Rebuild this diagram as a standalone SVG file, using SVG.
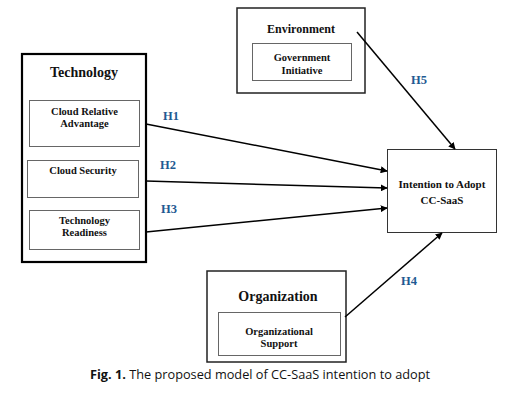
<svg xmlns="http://www.w3.org/2000/svg" width="515" height="403" viewBox="0 0 515 403">
<style>
.outer{fill:#fff;stroke:#222;stroke-width:1.5}
.thick{fill:#fff;stroke:#000;stroke-width:2.2}
.inner{fill:#fff;stroke:#666;stroke-width:1}
.t{font-family:"Liberation Serif",serif;font-weight:bold;fill:#111;text-anchor:middle}
.h{font-family:"Liberation Serif",serif;font-weight:bold;fill:#1F5A92;font-size:12.5px;text-anchor:middle}
.c{stroke:#000;stroke-width:1.5;fill:none;marker-end:url(#ah)}
.cap{font-family:"Open Sans","Liberation Sans",sans-serif;font-size:13px;fill:#111;text-anchor:middle}
</style>
<defs>
<marker id="ah" viewBox="0 0 10 10" refX="9" refY="5" markerWidth="7" markerHeight="7" markerUnits="userSpaceOnUse" orient="auto">
<path d="M0,0 L10,5 L0,10 z" fill="#000"/>
</marker>
</defs>
<g id="technology">
<rect class="thick" x="22" y="54" width="124" height="208"/>
<text class="t" x="84" y="77" font-size="14">Technology</text>
<g id="cloud-relative-advantage">
<rect class="inner" x="29.5" y="100.5" width="110" height="46"/>
<text class="t" x="84.5" y="115" font-size="10.5">Cloud Relative</text>
<text class="t" x="84.5" y="127" font-size="10.5">Advantage</text>
</g>
<g id="cloud-security">
<rect class="inner" x="27.5" y="160.5" width="111" height="37"/>
<text class="t" x="83" y="174" font-size="10.5">Cloud Security</text>
</g>
<g id="technology-readiness">
<rect class="inner" x="29.5" y="210.5" width="110" height="39"/>
<text class="t" x="84.5" y="224" font-size="10.5">Technology</text>
<text class="t" x="84.5" y="236" font-size="10.5">Readiness</text>
</g>
</g>
<g id="environment">
<rect class="outer" x="237" y="8" width="128" height="85"/>
<text class="t" x="301" y="33" font-size="12">Environment</text>
<g id="government-initiative">
<rect class="inner" x="252.5" y="43.5" width="99" height="37"/>
<text class="t" x="302" y="61" font-size="10.5">Government</text>
<text class="t" x="302" y="74" font-size="10.5">Initiative</text>
</g>
</g>
<g id="organization">
<rect class="outer" x="207" y="271" width="139" height="91"/>
<text class="t" x="278" y="301" font-size="14">Organization</text>
<g id="organizational-support">
<rect class="inner" x="218.5" y="312.5" width="122" height="43"/>
<text class="t" x="279" y="335" font-size="10.5">Organizational</text>
<text class="t" x="279" y="347" font-size="10.5">Support</text>
</g>
</g>
<g id="intention">
<rect x="387.5" y="149.5" width="109" height="83" fill="#fff" stroke="#333" stroke-width="1"/>
<text class="t" x="442" y="188" font-size="11">Intention to Adopt</text>
<text class="t" x="442" y="204" font-size="11">CC-SaaS</text>
</g>
<g id="connectors">
<line class="c" x1="146" y1="124" x2="387" y2="171"/>
<line class="c" x1="146" y1="181" x2="387" y2="188"/>
<line class="c" x1="146" y1="232" x2="387" y2="208"/>
<line class="c" x1="357" y1="32" x2="455" y2="149"/>
<line class="c" x1="345" y1="317" x2="442" y2="233"/>
<text class="h" x="171" y="120">H1</text>
<text class="h" x="168" y="169">H2</text>
<text class="h" x="169" y="213">H3</text>
<text class="h" x="419" y="84">H5</text>
<text class="h" x="409" y="285">H4</text>
</g>
<text class="cap" x="260" y="379" textLength="340" lengthAdjust="spacingAndGlyphs"><tspan font-weight="bold">Fig. 1.</tspan> The proposed model of CC-SaaS intention to adopt</text>
</svg>
